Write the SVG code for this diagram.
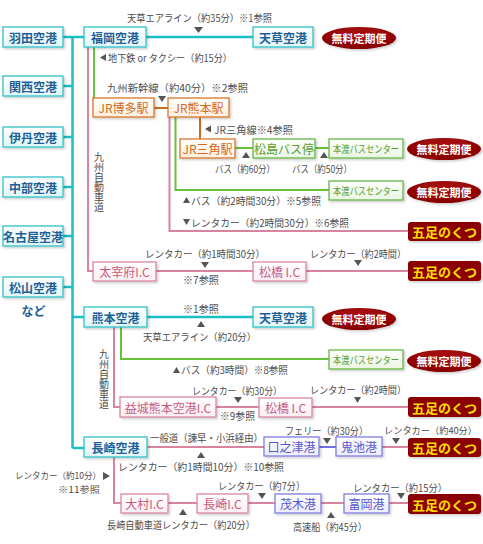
<svg xmlns="http://www.w3.org/2000/svg" width="483" height="544" viewBox="0 0 483 544">
<defs>
<linearGradient id="gT" x1="0" y1="0" x2="0" y2="1"><stop offset="0" stop-color="#ffffff"/><stop offset="1" stop-color="#e2f6f7"/></linearGradient>
<linearGradient id="gO" x1="0" y1="0" x2="0" y2="1"><stop offset="0" stop-color="#ffffff"/><stop offset="1" stop-color="#fdeedd"/></linearGradient>
<linearGradient id="gG" x1="0" y1="0" x2="0" y2="1"><stop offset="0" stop-color="#ffffff"/><stop offset="1" stop-color="#eaf6e2"/></linearGradient>
<linearGradient id="gP" x1="0" y1="0" x2="0" y2="1"><stop offset="0" stop-color="#ffffff"/><stop offset="1" stop-color="#fbeef2"/></linearGradient>
<linearGradient id="gB" x1="0" y1="0" x2="0" y2="1"><stop offset="0" stop-color="#ffffff"/><stop offset="1" stop-color="#ececfb"/></linearGradient>
<radialGradient id="gR" cx="0.5" cy="0.35" r="0.6"><stop offset="0" stop-color="#b01010"/><stop offset="1" stop-color="#880000"/></radialGradient>
<filter id="sh" x="-10%" y="-10%" width="130%" height="140%"><feDropShadow dx="1.5" dy="1.5" stdDeviation="0.8" flood-color="#000" flood-opacity="0.2"/></filter>
</defs>
<style>
text{font-family:"Noto Sans CJK JP","Noto Sans",sans-serif;dominant-baseline:central}
.lb{font-size:10px;fill:#4d4d4d}
.vt{font-size:10px;fill:#4d4d4d;writing-mode:vertical-rl;dominant-baseline:auto}
.bt{font-size:12px;font-weight:bold;text-anchor:middle}
.tb rect{fill:url(#gT);stroke:#2ec3c8;stroke-width:1.3;filter:url(#sh)}
.tb text{fill:#1d5f96}
.ob rect{fill:url(#gO);stroke:#d8782c;stroke-width:1.3;filter:url(#sh)}
.ob text{fill:#d26a1c;font-weight:normal}
.gb rect{fill:url(#gG);stroke:#66b845;stroke-width:1.3;filter:url(#sh)}
.gb text{fill:#58a034;font-weight:normal}
.gb text.hd{font-size:10.5px}
.pb rect{fill:url(#gP);stroke:#d9889f;stroke-width:1.3;filter:url(#sh)}
.pb text{fill:#c85a80;font-weight:normal}
.bb rect{fill:url(#gB);stroke:#7f7fe0;stroke-width:1.3;filter:url(#sh)}
.bb text{fill:#5656cc;font-weight:normal}
.gk rect{fill:#8b0000;filter:url(#sh)}
.gk text{fill:#ffdd00;font-size:13px}
.bd ellipse{fill:url(#gR);filter:url(#sh)}
.bd text{fill:#ffffff;font-size:11px}
.lt{stroke:#1bbfc4;stroke-width:2.5;fill:none}
.lp{stroke:#d9849f;stroke-width:2;fill:none}
.lg{stroke:#66c23a;stroke-width:2;fill:none}
.lo{stroke:#d06a1e;stroke-width:2;fill:none}
.lbl{stroke:#6f6fe6;stroke-width:2;fill:none}
.ar{fill:#555555}
</style>

<g id="connectors">
<path class="lt" d="M72.5 37V448M63 37H84M63 86H72.5M63 137H72.5M63 187H72.5M63 236H72.5M63 287H72.5M72.5 317H84M72.5 448H84M146 37H253M147 317H253"/>
<path class="lp" d="M88 46V271H93M156 271H253M306 271H408M169.5 117V231H408M114 327V407H120M216 407H259M312 407H408M147 447H264M382 447H408M114 457V503H121M168 503H197M248 503H275M321 503H344M389 503H408"/>
<path class="lg" d="M94 46V98M175.5 117V190H329M235 148H253M315 148H329M121 327V359H329"/>
<path class="lo" d="M154 108H168M200 117V139"/>
<path class="lbl" d="M319 447H336"/>
</g>

<g id="arrows">
<polygon class="ar" points="194,27 203,27 198.5,33"/>
<polygon class="ar" points="100,57.5 106,54 106,61"/>
<polygon class="ar" points="158,96 166,96 162,102"/>
<polygon class="ar" points="205,129 211,125.5 211,132.5"/>
<polygon class="ar" points="242,158 250,158 246,152"/>
<polygon class="ar" points="320,158 328,158 324,152"/>
<polygon class="ar" points="183,203 190,203 186.5,197"/>
<polygon class="ar" points="183,219 190,219 186.5,225"/>
<polygon class="ar" points="201,262 209,262 205,268"/>
<polygon class="ar" points="354,260 362,260 358,266"/>
<polygon class="ar" points="197,327 205,327 201,321"/>
<polygon class="ar" points="173,373 180,373 176.5,367"/>
<polygon class="ar" points="234,397 242,397 238,403"/>
<polygon class="ar" points="354,397 361,397 357.5,403"/>
<polygon class="ar" points="197,458 205,458 201,452"/>
<polygon class="ar" points="323,438 331,438 327,444"/>
<polygon class="ar" points="392,438 400,438 396,444"/>
<polygon class="ar" points="103,472 103,480 110,476"/>
<polygon class="ar" points="258,493 266,493 262,499"/>
<polygon class="ar" points="397,493 405,493 401,499"/>
<polygon class="ar" points="179,515 187,515 183,509"/>
<polygon class="ar" points="327,518 335,518 331,512"/>
</g>

<g id="labels">
<text class="lb" x="127" y="17.5" textLength="145" lengthAdjust="spacingAndGlyphs">天草エアライン（約35分）※1参照</text>
<text class="lb" x="108" y="57.5" textLength="124" lengthAdjust="spacingAndGlyphs">地下鉄 or タクシー（約15分）</text>
<text class="lb" x="107" y="87" textLength="141" lengthAdjust="spacingAndGlyphs">九州新幹線（約40分）※2参照</text>
<text class="lb" x="214" y="129" textLength="79" lengthAdjust="spacingAndGlyphs">JR三角線※4参照</text>
<text class="lb" x="215" y="168" textLength="60" lengthAdjust="spacingAndGlyphs">バス（約60分）</text>
<text class="lb" x="292" y="168" textLength="60" lengthAdjust="spacingAndGlyphs">バス（約50分）</text>
<text class="lb" x="191" y="200" textLength="130" lengthAdjust="spacingAndGlyphs">バス（約2時間30分）※5参照</text>
<text class="lb" x="191" y="222" textLength="158" lengthAdjust="spacingAndGlyphs">レンタカー（約2時間30分）※6参照</text>
<text class="lb" x="145" y="253" textLength="120" lengthAdjust="spacingAndGlyphs">レンタカー（約1時間30分）</text>
<text class="lb" x="183" y="279" textLength="36" lengthAdjust="spacingAndGlyphs">※7参照</text>
<text class="lb" x="310" y="253" textLength="96" lengthAdjust="spacingAndGlyphs">レンタカー（約2時間）</text>
<text class="lb" x="183" y="308.5" textLength="36" lengthAdjust="spacingAndGlyphs">※1参照</text>
<text class="lb" x="143" y="336" textLength="113" lengthAdjust="spacingAndGlyphs">天草エアライン（約20分）</text>
<text class="lb" x="181" y="369.5" textLength="107" lengthAdjust="spacingAndGlyphs">バス（約3時間）※8参照</text>
<text class="lb" x="192" y="390" textLength="90" lengthAdjust="spacingAndGlyphs">レンタカー（約30分）</text>
<text class="lb" x="220" y="415" textLength="35" lengthAdjust="spacingAndGlyphs">※9参照</text>
<text class="lb" x="310" y="389" textLength="96" lengthAdjust="spacingAndGlyphs">レンタカー（約2時間）</text>
<text class="lb" x="150" y="437.5" textLength="113" lengthAdjust="spacingAndGlyphs">一般道（諫早・小浜経由）</text>
<text class="lb" x="118" y="466" textLength="166" lengthAdjust="spacingAndGlyphs">レンタカー（約1時間10分）※10参照</text>
<text class="lb" x="285" y="430" textLength="83" lengthAdjust="spacingAndGlyphs">フェリー（約30分）</text>
<text class="lb" x="384" y="430" style="font-size:9.2px" textLength="93" lengthAdjust="spacingAndGlyphs">レンタカー（約40分）</text>
<text class="lb" x="15" y="475" style="font-size:9px" textLength="86" lengthAdjust="spacingAndGlyphs">レンタカー（約10分）</text>
<text class="lb" x="58" y="489" style="font-size:9px" textLength="42" lengthAdjust="spacingAndGlyphs">※11参照</text>
<text class="lb" x="218" y="485.5" textLength="87" lengthAdjust="spacingAndGlyphs">レンタカー（約7分）</text>
<text class="lb" x="353" y="487" textLength="94" lengthAdjust="spacingAndGlyphs">レンタカー（約15分）</text>
<text class="lb" x="107" y="524" textLength="148" lengthAdjust="spacingAndGlyphs">長崎自動車道レンタカー（約20分）</text>
<text class="lb" x="293" y="526" textLength="74" lengthAdjust="spacingAndGlyphs">高速船（約45分）</text>
<text class="vt" x="99" y="152">九州自動車道</text>
<text class="vt" x="104" y="349">九州自動車道</text>
<text x="33.5" y="310" style="font-size:12px;font-weight:bold;fill:#1d5f96;text-anchor:middle">など</text>
</g>

<g id="haneda" class="tb"><rect x="3" y="27" width="60" height="20"/><text class="bt" x="33" y="37">羽田空港</text></g>
<g id="kansai" class="tb"><rect x="3" y="76" width="60" height="20"/><text class="bt" x="33" y="86">関西空港</text></g>
<g id="itami" class="tb"><rect x="3" y="127" width="60" height="20"/><text class="bt" x="33" y="137">伊丹空港</text></g>
<g id="chubu" class="tb"><rect x="3" y="177" width="60" height="20"/><text class="bt" x="33" y="187">中部空港</text></g>
<g id="nagoya" class="tb"><rect x="3" y="226" width="60" height="20"/><text class="bt" x="33" y="236">名古屋空港</text></g>
<g id="matsuyama" class="tb"><rect x="3" y="277" width="60" height="20"/><text class="bt" x="33" y="287">松山空港</text></g>
<g id="fukuoka" class="tb"><rect x="84" y="27" width="62" height="20"/><text class="bt" x="115" y="37">福岡空港</text></g>
<g id="amakusa1" class="tb"><rect x="253" y="27" width="60" height="20"/><text class="bt" x="283" y="37">天草空港</text></g>
<g id="kumamoto" class="tb"><rect x="84" y="307" width="63" height="20"/><text class="bt" x="115.5" y="317">熊本空港</text></g>
<g id="amakusa2" class="tb"><rect x="253" y="307" width="60" height="20"/><text class="bt" x="283" y="317">天草空港</text></g>
<g id="nagasaki" class="tb"><rect x="84" y="437" width="63" height="20"/><text class="bt" x="115.5" y="447">長崎空港</text></g>

<g id="hakata" class="ob"><rect x="93" y="98" width="61" height="19"/><text class="bt" x="123.5" y="107.5">JR博多駅</text></g>
<g id="kumamotoeki" class="ob"><rect x="168" y="98" width="61" height="19"/><text class="bt" x="198.5" y="107.5">JR熊本駅</text></g>
<g id="misumi" class="ob"><rect x="180" y="139" width="55" height="19"/><text class="bt" x="207.5" y="148.5">JR三角駅</text></g>

<g id="matsushima" class="gb"><rect x="253" y="139" width="62" height="19"/><text class="bt" x="284" y="148.5">松島バス停</text></g>
<g id="hondo1" class="gb"><rect x="329" y="139" width="74" height="19"/><text class="bt hd" x="366" y="148.5" textLength="66" lengthAdjust="spacingAndGlyphs">本渡バスセンター</text></g>
<g id="hondo2" class="gb"><rect x="329" y="181" width="74" height="19"/><text class="bt hd" x="366" y="190.5" textLength="66" lengthAdjust="spacingAndGlyphs">本渡バスセンター</text></g>
<g id="hondo3" class="gb"><rect x="329" y="350" width="74" height="19"/><text class="bt hd" x="366" y="359.5" textLength="66" lengthAdjust="spacingAndGlyphs">本渡バスセンター</text></g>

<g id="dazaifu" class="pb"><rect x="93" y="262" width="63" height="19"/><text class="bt" x="124.5" y="271.5">太宰府I.C</text></g>
<g id="matsubase1" class="pb"><rect x="253" y="262" width="53" height="19"/><text class="bt" x="279.5" y="271.5">松橋 I.C</text></g>
<g id="mashiki" class="pb"><rect x="120" y="397" width="96" height="20"/><text class="bt" x="168" y="407">益城熊本空港I.C</text></g>
<g id="matsubase2" class="pb"><rect x="259" y="398" width="53" height="19"/><text class="bt" x="285.5" y="407.5">松橋 I.C</text></g>
<g id="omura" class="pb"><rect x="121" y="494" width="47" height="19"/><text class="bt" x="144.5" y="503.5">大村I.C</text></g>
<g id="nagasakiic" class="pb"><rect x="197" y="494" width="51" height="19"/><text class="bt" x="222.5" y="503.5">長崎I.C</text></g>

<g id="kuchinotsu" class="bb"><rect x="264" y="437" width="55" height="19"/><text class="bt" x="291.5" y="446.5">口之津港</text></g>
<g id="oniike" class="bb"><rect x="336" y="437" width="46" height="19"/><text class="bt" x="359" y="446.5">鬼池港</text></g>
<g id="mogi" class="bb"><rect x="275" y="494" width="46" height="19"/><text class="bt" x="298" y="503.5">茂木港</text></g>
<g id="tomioka" class="bb"><rect x="344" y="494" width="45" height="19"/><text class="bt" x="366.5" y="503.5">富岡港</text></g>

<g id="gosoku1" class="gk"><rect x="408" y="222" width="73" height="19" rx="3"/><text class="bt" x="444.5" y="231.5">五足のくつ</text></g>
<g id="gosoku2" class="gk"><rect x="408" y="261" width="73" height="20" rx="3"/><text class="bt" x="444.5" y="271">五足のくつ</text></g>
<g id="gosoku3" class="gk"><rect x="408" y="397" width="73" height="20" rx="3"/><text class="bt" x="444.5" y="407">五足のくつ</text></g>
<g id="gosoku4" class="gk"><rect x="408" y="438" width="73" height="19" rx="3"/><text class="bt" x="444.5" y="447.5">五足のくつ</text></g>
<g id="gosoku5" class="gk"><rect x="408" y="494" width="73" height="20" rx="3"/><text class="bt" x="444.5" y="504">五足のくつ</text></g>

<g id="badge1" class="bd"><ellipse cx="359" cy="38" rx="37" ry="11"/><text class="bt" x="359" y="38">無料定期便</text></g>
<g id="badge2" class="bd"><ellipse cx="444" cy="149" rx="37" ry="11"/><text class="bt" x="444" y="149">無料定期便</text></g>
<g id="badge3" class="bd"><ellipse cx="444" cy="192" rx="37" ry="11"/><text class="bt" x="444" y="192">無料定期便</text></g>
<g id="badge4" class="bd"><ellipse cx="359" cy="319" rx="37" ry="11"/><text class="bt" x="359" y="319">無料定期便</text></g>
<g id="badge5" class="bd"><ellipse cx="444" cy="361" rx="37" ry="11"/><text class="bt" x="444" y="361">無料定期便</text></g>
</svg>
